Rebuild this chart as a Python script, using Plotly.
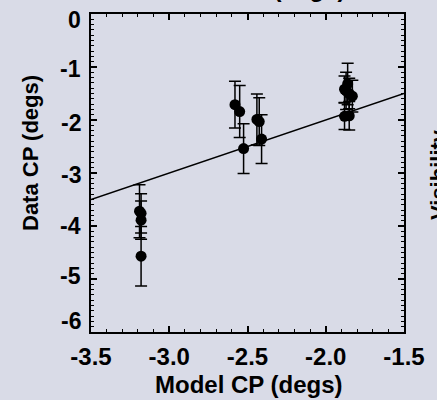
import plotly.graph_objects as go

# ---- data ----
model_cp = [-3.19, -3.18, -3.18, -3.18,
            -2.58, -2.55, -2.525, -2.44, -2.425, -2.41,
            -1.86, -1.87, -1.85, -1.88, -1.83, -1.88, -1.85]
data_cp = [-3.72, -3.76, -3.89, -4.57,
           -1.71, -1.84, -2.54, -1.99, -2.03, -2.36,
           -1.32, -1.45, -1.50, -1.42, -1.55, -1.93, -1.92]
data_err = [0.50, 0.37, 0.36, 0.56,
            0.44, 0.49, 0.47, 0.48, 0.45, 0.46,
            0.39, 0.35, 0.29, 0.25, 0.30, 0.25, 0.27]

line_x = [-3.5, -1.5]
line_y = [-3.5, -1.5]

x_ticks = [-3.5, -3.0, -2.5, -2.0, -1.5]
x_tick_labels = ["-3.5", "-3.0", "-2.5", "-2.0", "-1.5"]
y_ticks = [0, -1, -2, -3, -4, -5, -6]
y_tick_labels = ["0", "-1", "-2", "-3", "-4", "-5", "-6"]

x_title = "Model CP (degs)"
y_title = "Data CP (degs)"
top_title = "Closure Phase (degs)"
right_label = "Visibility"

# ---- style ----
BG = "#d9dbe7"
FONT = "Liberation Sans"
y_label_nudge = [-6, -2, -3, -2, 0, 3, 11]   # pixel nudges (up +) of y tick labels

fig = go.Figure()
fig.add_trace(go.Scatter(
    x=line_x, y=line_y, mode="lines",
    line=dict(color="black", width=1.5), showlegend=False, hoverinfo="skip"))
fig.add_trace(go.Scatter(
    x=model_cp, y=data_cp, mode="markers",
    marker=dict(color="black", size=11, symbol="circle"),
    error_y=dict(type="data", array=data_err, visible=True,
                 color="black", thickness=1.5, width=6),
    showlegend=False))

axis_common = dict(
    showgrid=False, zeroline=False, showline=True, linecolor="black",
    linewidth=2, mirror="ticks", ticks="inside", tickcolor="black",
    tickwidth=1.5, ticklen=6,
)
fig.update_xaxes(
    range=[-3.5, -1.5], tickmode="array", tickvals=x_ticks, ticktext=x_tick_labels,
    tickfont=dict(family=FONT, size=24, color="black", weight="bold"),
    ticklabelstandoff=2,
    minor=dict(ticks="inside", ticklen=3, dtick=0.1, tick0=-3.5,
               tickcolor="black", tickwidth=1),
    **axis_common)
fig.update_yaxes(
    range=[-6, 0], tickmode="array", tickvals=y_ticks, showticklabels=False,
    minor=dict(ticks="inside", ticklen=3, dtick=0.1, tick0=0,
               tickcolor="black", tickwidth=1),
    **axis_common)

annotations = [
    dict(text=x_title, xref="paper", yref="paper", x=0.5, y=0,
         xanchor="center", yanchor="top", yshift=-37, xshift=1,
         showarrow=False,
         font=dict(family=FONT, size=24, color="black", weight="bold")),
    dict(text=y_title, xref="paper", yref="paper", x=0, y=1,
         xanchor="center", yanchor="middle", xshift=-61, yshift=-139,
         textangle=-90, showarrow=False,
         font=dict(family=FONT, size=22, color="black", weight="bold")),
    dict(text=top_title, xref="paper", yref="paper", x=0, y=1,
         xanchor="right", yanchor="bottom", xshift=256, yshift=10,
         showarrow=False,
         font=dict(family=FONT, size=24, color="black", weight="bold")),
    dict(text=right_label, xref="paper", yref="paper", x=1, y=1,
         xanchor="center", yanchor="middle", xshift=34, yshift=-161,
         textangle=-90, showarrow=False,
         font=dict(family=FONT, size=22, color="black", weight="bold")),
]
for val, lab, nudge in zip(y_ticks, y_tick_labels, y_label_nudge):
    annotations.append(dict(
        text=lab, xref="paper", yref="y", x=0, y=val,
        xanchor="right", yanchor="middle", xshift=-8, yshift=nudge,
        showarrow=False,
        font=dict(family=FONT, size=23, color="black", weight="bold")))

fig.update_layout(
    width=437, height=400,
    margin=dict(l=91, r=28, t=13, b=68),
    paper_bgcolor=BG, plot_bgcolor=BG,
    annotations=annotations,
)

fig.write_html("out.html")
